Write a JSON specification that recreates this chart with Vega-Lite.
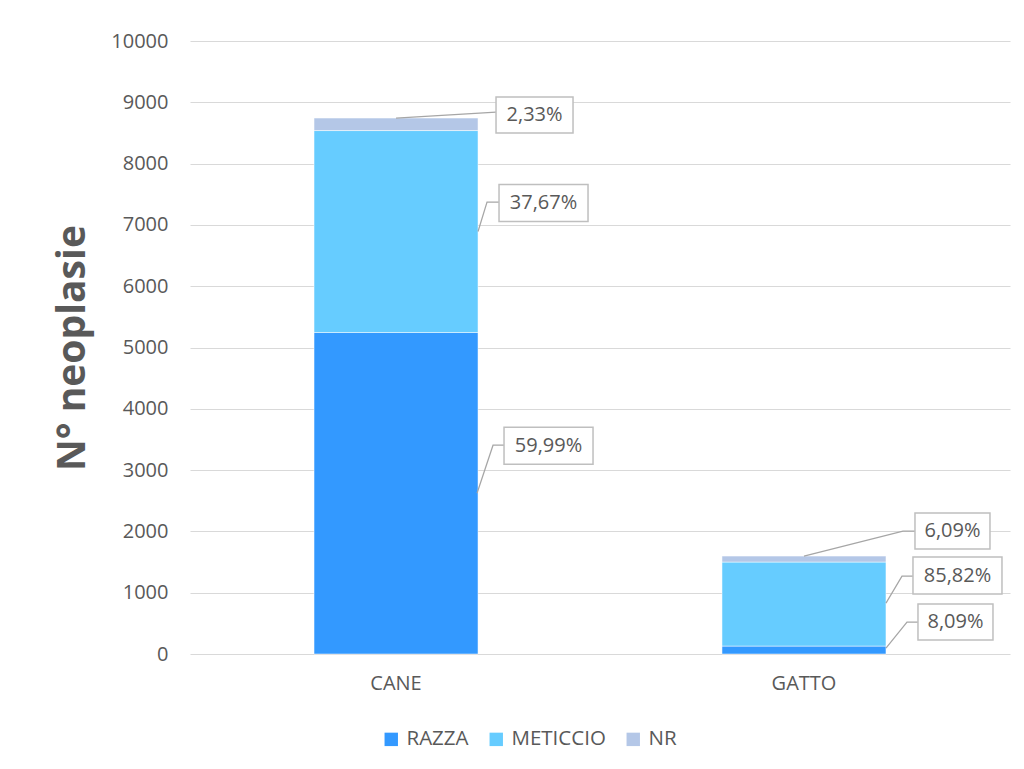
{
  "$schema": "https://vega.github.io/schema/vega-lite/v6.json",
  "width": 820,
  "height": 613,
  "autosize": "none",
  "padding": {"left": 190, "top": 41, "right": 14, "bottom": 115},
  "config": {
    "font": "Open Sans",
    "view": {"stroke": null},
    "axis": {"labelColor": "#595959", "titleColor": "#595959", "labelFontSize": 20}
  },
  "data": {
    "values": [
      {"cat": "CANE", "serie": "RAZZA", "ord": 1, "n": 5245, "pct": "59,99%"},
      {"cat": "CANE", "serie": "METICCIO", "ord": 2, "n": 3294, "pct": "37,67%"},
      {"cat": "CANE", "serie": "NR", "ord": 3, "n": 204, "pct": "2,33%"},
      {"cat": "GATTO", "serie": "RAZZA", "ord": 1, "n": 129, "pct": "8,09%"},
      {"cat": "GATTO", "serie": "METICCIO", "ord": 2, "n": 1371, "pct": "85,82%"},
      {"cat": "GATTO", "serie": "NR", "ord": 3, "n": 97, "pct": "6,09%"}
    ]
  },
  "layer": [
    {
      "mark": {"type": "bar", "stroke": "white", "strokeWidth": 0.5},
      "encoding": {
        "x": {
          "field": "cat", "type": "nominal", "title": null,
          "scale": {"paddingInner": 0.598, "paddingOuter": 0.304},
          "axis": {"domain": false, "ticks": false, "labelAngle": 0, "labelPadding": 19, "labelFontSize": 20}
        },
        "y": {
          "field": "n", "type": "quantitative", "stack": "zero", "title": "N° neoplasie",
          "scale": {"domain": [0, 10000], "nice": false},
          "axis": {
            "domain": false, "ticks": false, "grid": true, "gridColor": "#D9D9D9",
            "values": [0, 1000, 2000, 3000, 4000, 5000, 6000, 7000, 8000, 9000, 10000],
            "format": "d", "labelPadding": 22, "labelFontSize": 20,
            "titleFontSize": 39, "titleFontWeight": "bold", "titlePadding": 18
          }
        },
        "color": {
          "field": "serie", "type": "nominal",
          "scale": {"domain": ["RAZZA", "METICCIO", "NR"], "range": ["#3399FF", "#66CCFF", "#B4C7E7"]},
          "legend": {
            "title": null, "orient": "none", "direction": "horizontal",
            "legendX": 191, "legendY": 688,
            "symbolType": "square", "symbolSize": 180, "symbolStrokeWidth": 0,
            "labelFontSize": 20.5, "labelColor": "#595959", "labelOffset": 5, "columnPadding": 17
          }
        },
        "order": {"field": "ord", "type": "quantitative"}
      }
    },
    {
      "transform": [
        {"stack": "n", "groupby": ["cat"], "sort": [{"field": "ord"}], "as": ["s0", "s1"]},
        {"calculate": "datum.serie == 'NR' ? datum.s1 : (datum.s0 + datum.s1) / 2", "as": "anchor"},
        {"calculate": "datum.cat + '-' + datum.serie", "as": "key"}
      ],
      "encoding": {
        "x": {"field": "cat", "type": "nominal", "title": null},
        "y": {"field": "anchor", "type": "quantitative", "title": "N° neoplasie"}
      },
      "layer": [
        {
          "transform": [{"filter": "datum.key == 'CANE-NR'"}],
          "layer": [
            {"mark": {"type": "point", "shape": "M0,0L100,-6", "size": 4, "filled": false, "stroke": "#A6A6A6", "strokeWidth": 1.25, "opacity": 1}},
            {"mark": {"type": "point", "shape": "M100,-21H177V15H100Z", "size": 4, "filled": true, "fill": "white", "stroke": "#BFBFBF", "strokeWidth": 1.5, "opacity": 1}},
            {"mark": {"type": "text", "dx": 138.5, "dy": -3, "align": "center", "baseline": "middle", "fontSize": 20, "fill": "#595959", "font": "Open Sans"}, "encoding": {"text": {"field": "pct"}}}
          ]
        },
        {
          "transform": [{"filter": "datum.key == 'CANE-METICCIO'"}],
          "layer": [
            {"mark": {"type": "point", "shape": "M82,0L91,-29.5H103", "size": 4, "filled": false, "stroke": "#A6A6A6", "strokeWidth": 1.25, "opacity": 1}},
            {"mark": {"type": "point", "shape": "M103,-47H192V-10H103Z", "size": 4, "filled": true, "fill": "white", "stroke": "#BFBFBF", "strokeWidth": 1.5, "opacity": 1}},
            {"mark": {"type": "text", "dx": 147.5, "dy": -28.5, "align": "center", "baseline": "middle", "fontSize": 20, "fill": "#595959", "font": "Open Sans"}, "encoding": {"text": {"field": "pct"}}}
          ]
        },
        {
          "transform": [{"filter": "datum.key == 'CANE-RAZZA'"}],
          "layer": [
            {"mark": {"type": "point", "shape": "M81,0L97,-48H108", "size": 4, "filled": false, "stroke": "#A6A6A6", "strokeWidth": 1.25, "opacity": 1}},
            {"mark": {"type": "point", "shape": "M108,-66H197V-29H108Z", "size": 4, "filled": true, "fill": "white", "stroke": "#BFBFBF", "strokeWidth": 1.5, "opacity": 1}},
            {"mark": {"type": "text", "dx": 152.5, "dy": -47.5, "align": "center", "baseline": "middle", "fontSize": 20, "fill": "#595959", "font": "Open Sans"}, "encoding": {"text": {"field": "pct"}}}
          ]
        },
        {
          "transform": [{"filter": "datum.key == 'GATTO-NR'"}],
          "layer": [
            {"mark": {"type": "point", "shape": "M0,0L99,-25H111", "size": 4, "filled": false, "stroke": "#A6A6A6", "strokeWidth": 1.25, "opacity": 1}},
            {"mark": {"type": "point", "shape": "M111,-43H186V-7H111Z", "size": 4, "filled": true, "fill": "white", "stroke": "#BFBFBF", "strokeWidth": 1.5, "opacity": 1}},
            {"mark": {"type": "text", "dx": 148.5, "dy": -25, "align": "center", "baseline": "middle", "fontSize": 20, "fill": "#595959", "font": "Open Sans"}, "encoding": {"text": {"field": "pct"}}}
          ]
        },
        {
          "transform": [{"filter": "datum.key == 'GATTO-METICCIO'"}],
          "layer": [
            {"mark": {"type": "point", "shape": "M82,-1L98,-28H109", "size": 4, "filled": false, "stroke": "#A6A6A6", "strokeWidth": 1.25, "opacity": 1}},
            {"mark": {"type": "point", "shape": "M109,-47H198V-10H109Z", "size": 4, "filled": true, "fill": "white", "stroke": "#BFBFBF", "strokeWidth": 1.5, "opacity": 1}},
            {"mark": {"type": "text", "dx": 153.5, "dy": -28.5, "align": "center", "baseline": "middle", "fontSize": 20, "fill": "#595959", "font": "Open Sans"}, "encoding": {"text": {"field": "pct"}}}
          ]
        },
        {
          "transform": [{"filter": "datum.key == 'GATTO-RAZZA'"}],
          "layer": [
            {"mark": {"type": "point", "shape": "M82,-2L103,-28H114", "size": 4, "filled": false, "stroke": "#A6A6A6", "strokeWidth": 1.25, "opacity": 1}},
            {"mark": {"type": "point", "shape": "M114,-46H189V-10H114Z", "size": 4, "filled": true, "fill": "white", "stroke": "#BFBFBF", "strokeWidth": 1.5, "opacity": 1}},
            {"mark": {"type": "text", "dx": 151.5, "dy": -28, "align": "center", "baseline": "middle", "fontSize": 20, "fill": "#595959", "font": "Open Sans"}, "encoding": {"text": {"field": "pct"}}}
          ]
        }
      ]
    }
  ]
}
